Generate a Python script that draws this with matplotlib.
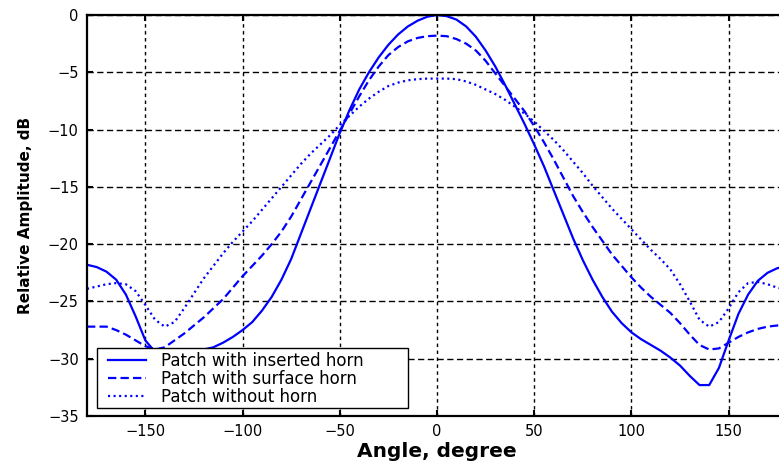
import numpy as np
import matplotlib.pyplot as plt
from matplotlib.patches import Rectangle

plt.rcParams['font.family'] = ['DejaVu Sans']
plt.rcParams['lines.scale_dashes'] = False

angle = np.arange(-180, 181, 5)

inserted = [-21.8, -22.0, -22.4, -23.1, -24.4, -26.3, -28.4, -29.4, -29.6, -29.5,
            -29.4, -29.3, -29.2, -29.0, -28.6, -28.1, -27.5, -26.8, -25.8, -24.6,
            -23.1, -21.3, -19.1, -16.9, -14.7, -12.5, -10.3, -8.3, -6.5, -5.0,
            -3.7, -2.6, -1.7, -1.0, -0.5, -0.15, 0.0, -0.1, -0.4, -1.0,
            -1.9, -3.1, -4.5, -6.1, -7.8, -9.5, -11.3, -13.2, -15.3, -17.4,
            -19.5, -21.4, -23.1, -24.6, -25.9, -26.9, -27.7, -28.3, -28.8, -29.3,
            -29.9, -30.6, -31.5, -32.3, -32.3, -30.8, -28.4, -26.1, -24.4, -23.2,
            -22.5, -22.1, -21.9]

surface = [-27.2, -27.2, -27.2, -27.5, -27.9, -28.4, -28.9, -29.2, -29.0, -28.4,
           -27.8, -27.1, -26.4, -25.6, -24.8, -23.8, -22.8, -21.9, -21.0, -20.0,
           -18.9, -17.6, -16.1, -14.6, -13.1, -11.6, -10.1, -8.6, -7.1, -5.7,
           -4.5, -3.5, -2.8, -2.3, -2.0, -1.85, -1.8, -1.85, -2.1, -2.5,
           -3.1, -4.0, -5.1, -6.2, -7.3, -8.4, -9.7, -11.1, -12.6, -14.2,
           -15.8, -17.2, -18.5, -19.7, -20.9, -21.9, -22.9, -23.8, -24.6, -25.3,
           -26.0, -26.9, -27.9, -28.8, -29.2, -29.1, -28.6, -28.1, -27.7, -27.4,
           -27.2, -27.1, -27.1]

no_horn = [-23.9, -23.7, -23.5, -23.4, -23.5, -24.1, -25.3, -26.6, -27.2, -26.8,
           -25.6, -24.3, -23.0, -21.9, -20.8, -19.8, -18.9, -18.0, -17.0, -16.0,
           -15.0, -14.0, -13.0, -12.1, -11.3, -10.5, -9.6, -8.8, -8.0, -7.3,
           -6.7, -6.2, -5.9, -5.7, -5.6, -5.55, -5.55, -5.55, -5.6, -5.8,
           -6.1, -6.5, -6.9, -7.4, -8.0, -8.6, -9.3, -10.1, -10.9, -11.8,
           -12.8, -13.8, -14.9, -15.9, -16.9, -17.8, -18.7, -19.6, -20.5, -21.3,
           -22.2, -23.5, -25.0, -26.6, -27.2, -26.8, -25.6, -24.2, -23.4, -23.3,
           -23.5, -23.8, -24.0]

labels = ["Patch with inserted horn", "Patch with surface horn", "Patch without horn"]
xticks = [-150, -100, -50, 0, 50, 100, 150]
yticks = [0, -5, -10, -15, -20, -25, -30, -35]

fig = plt.figure(figsize=(7.79, 4.62), dpi=100)
ax = fig.add_axes([87/779, 46/462, 700/779, 401/462])

ax.plot(angle, inserted, color='blue', lw=1.6, ls='-', label=labels[0])
ax.plot(angle, surface, color='blue', lw=1.6, ls=(0, (6, 3)), label=labels[1])
ax.plot(angle, no_horn, color='blue', lw=1.6, ls=(0, (1.5, 2.5)), label=labels[2])

ax.set_xlim(-180, 180)
ax.set_ylim(-35, 0)
ax.set_xticks(xticks)
ax.set_yticks(yticks)
ax.tick_params(direction='in', length=4, width=1.5, top=True, right=True,
               labelsize=10.5, pad=6)

ax.xaxis.grid(True, color='black', lw=1.0, ls=(0, (2.5, 2.5)))
ax.yaxis.grid(True, color='black', lw=1.0, ls=(0, (4.5, 2.5)))
ax.set_axisbelow(True)

for s in ax.spines.values():
    s.set_linewidth(1.6)

ax.set_xlabel("Angle, degree", fontsize=14.5, fontweight='bold')
ax.set_ylabel("Relative Amplitude, dB", fontsize=11, fontweight='bold')
ax.xaxis.set_label_coords(0.5, -0.066)
ax.yaxis.set_label_coords(-0.077, 0.5)

# legend box is wider than the text in the original, so draw the frame separately
box = Rectangle((10/700, 8/401), 311/700, 60/401, transform=ax.transAxes,
                facecolor='white', edgecolor='black', lw=1.0, zorder=4)
ax.add_patch(box)
leg = ax.legend(loc='lower left', bbox_to_anchor=(0.027, 0.02), fontsize=12,
                frameon=False, borderaxespad=0, borderpad=0.1, labelspacing=0.0,
                handlelength=2.3, handletextpad=0.9)
leg.set_zorder(5)

fig.savefig("out.png", dpi=100)
